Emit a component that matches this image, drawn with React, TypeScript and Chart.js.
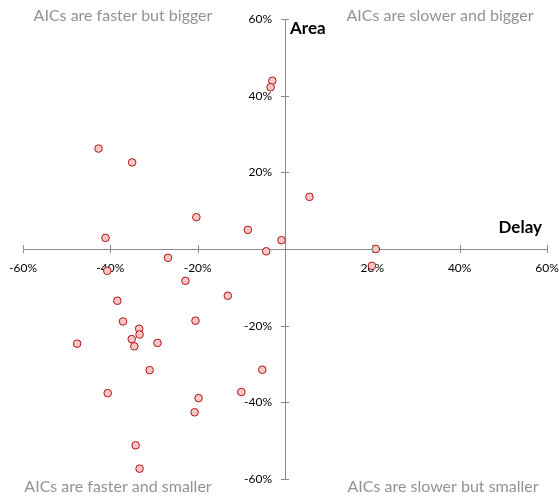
import React, { useEffect, useRef } from "react";
import { Chart, registerables } from "chart.js";

Chart.register(...registerables);

// Delay change (%) vs Area change (%)
const delay = [
  -2.9, -3.3, -42.7, -35.0, -20.3, -8.5, -41.1, -0.8, -4.3, 5.6, 20.8, 19.9,
  -26.8, -40.7, -22.8, -13.1, -38.4, -37.1, -20.5, -33.4, -33.3, -35.1, -34.5,
  -29.2, -47.6, -31.0, -5.2, -10.0, -40.6, -19.8, -20.7, -34.2, -33.3,
];
const area = [
  43.9, 42.2, 26.2, 22.6, 8.3, 5.0, 2.9, 2.3, -0.6, 13.6, 0.0, -4.4,
  -2.3, -5.7, -8.3, -12.2, -13.5, -18.9, -18.7, -20.8, -22.3, -23.5, -25.4,
  -24.5, -24.7, -31.6, -31.5, -37.3, -37.6, -38.9, -42.6, -51.2, -57.3,
];
const axisTicks = [-60, -40, -20, 0, 20, 40, 60];
const quadrantLabels = [
  "AICs are faster but bigger",
  "AICs are slower and bigger",
  "AICs are faster and smaller",
  "AICs are slower but smaller",
];
const xTitle = "Delay";
const yTitle = "Area";

const FONT = "Lato, 'Liberation Sans', sans-serif";
const fmt = (v: number) => (v === 0 ? "" : v + "%");

export default function App() {
  const ref = useRef<HTMLCanvasElement | null>(null);

  useEffect(() => {
    document.body.style.margin = "0";
    const canvas = ref.current;
    if (!canvas) return;

    const overlay = {
      id: "overlay",
      afterDraw(chart: any) {
        const ctx = chart.ctx;
        const xs = chart.scales.x;
        const ys = chart.scales.y;
        const ca = chart.chartArea;
        const x0 = xs.getPixelForValue(0);
        const y0 = ys.getPixelForValue(0);
        ctx.save();
        // crossing tick marks
        ctx.strokeStyle = "#8c8c8c";
        ctx.lineWidth = 1;
        ctx.beginPath();
        axisTicks.forEach((t) => {
          if (t === 0) return;
          const px = Math.round(xs.getPixelForValue(t)) + 0.5;
          ctx.moveTo(px, y0 - 4);
          ctx.lineTo(px, y0 + 4);
          const py = Math.round(ys.getPixelForValue(t)) + 0.5;
          ctx.moveTo(x0 - 4, py);
          ctx.lineTo(x0 + 4, py);
        });
        ctx.stroke();
        // y tick labels
        ctx.fillStyle = "#000";
        ctx.font = "12px " + FONT;
        ctx.textAlign = "right";
        ctx.textBaseline = "middle";
        axisTicks.forEach((t) => {
          ctx.fillText(fmt(t), x0 - 13, ys.getPixelForValue(t));
        });
        // axis titles
        ctx.fillStyle = "#000";
        ctx.font = "bold 17px " + FONT;
        ctx.textBaseline = "middle";
        ctx.textAlign = "left";
        ctx.fillText(yTitle, x0 + 5, ca.top + 10);
        ctx.textAlign = "right";
        ctx.fillText(xTitle, ca.right - 5, y0 - 21);
        // quadrant labels
        ctx.fillStyle = "#929292";
        ctx.font = "16px " + FONT;
        ctx.textAlign = "center";
        ctx.fillText(quadrantLabels[0], 123, 16);
        ctx.fillText(quadrantLabels[1], 440, 16);
        ctx.fillText(quadrantLabels[2], 118, 487);
        ctx.fillText(quadrantLabels[3], 443, 487);
        ctx.restore();
      },
    };

    const zeroPad = (s: any) => {
      s.paddingLeft = 0;
      s.paddingRight = 0;
      s.paddingTop = 0;
      s.paddingBottom = 0;
    };

    const chart = new Chart(canvas, {
      type: "scatter",
      data: {
        datasets: [
          {
            data: delay.map((d, i) => ({ x: d, y: area[i] })),
            backgroundColor: "#f8c6c6",
            borderColor: "#b01212",
            borderWidth: 1,
            pointRadius: 3.8,
            pointHoverRadius: 3.8,
          },
        ],
      },
      options: {
        animation: false,
        responsive: false,
        maintainAspectRatio: false,
        events: [],
        layout: { padding: { left: 23, right: 12, top: 19, bottom: 19 } },
        plugins: {
          legend: { display: false },
          tooltip: { enabled: false },
        },
        scales: {
          x: {
            type: "linear",
            position: { y: 0 },
            min: -60,
            max: 60,
            afterBuildTicks: (s: any) => {
              s.ticks = axisTicks.map((v) => ({ value: v }));
            },
            afterFit: zeroPad,
            grid: { display: true, drawOnChartArea: false, drawTicks: false },
            border: { display: true, color: "#8c8c8c", width: 1 },
            ticks: {
              padding: 12,
              color: "#000",
              font: { family: FONT, size: 12 },
              maxRotation: 0,
              callback: (v: any) => fmt(Number(v)),
            },
          },
          y: {
            type: "linear",
            position: { x: 0 },
            min: -60,
            max: 60,
            afterBuildTicks: (s: any) => {
              s.ticks = axisTicks.map((v) => ({ value: v }));
            },
            afterFit: zeroPad,
            grid: { display: true, drawOnChartArea: false, drawTicks: false },
            border: { display: true, color: "#8c8c8c", width: 1 },
            ticks: { display: false },
          },
        },
      },
      plugins: [overlay],
    } as any);

    return () => chart.destroy();
  }, []);

  return (
    <div style={{ width: 559, height: 498 }}>
      <canvas ref={ref} width={559} height={498} style={{ display: "block" }} />
    </div>
  );
}
